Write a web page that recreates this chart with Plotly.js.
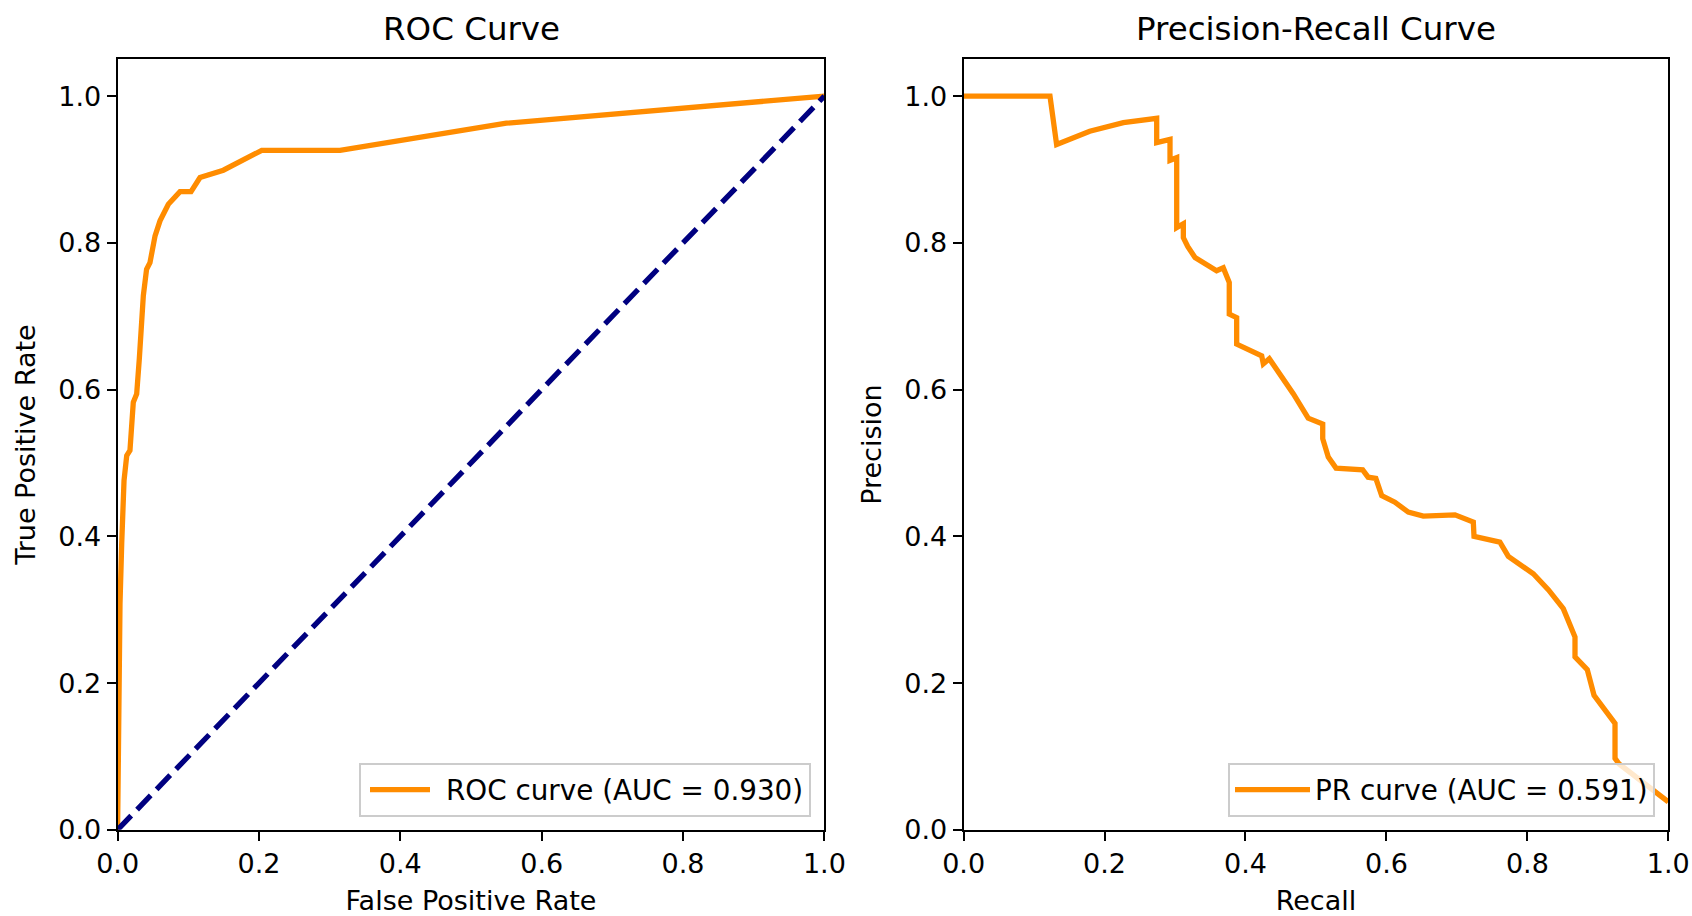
<!DOCTYPE html>
<html>
<head>
<meta charset="utf-8">
<script src="https://cdn.plot.ly/plotly-3.0.1.min.js"></script>
<style>html,body{margin:0;padding:0;background:#fff;}#chart{width:1692px;height:916px;}</style>
</head>
<body>
<div id="chart"></div>
<script>
// ROC curve data
const fpr = [0, 0.0015, 0.0034, 0.0058, 0.0091, 0.0129, 0.0175, 0.0222, 0.027, 0.0307, 0.034, 0.0364, 0.041, 0.0458, 0.053, 0.060, 0.0718, 0.0883, 0.1039, 0.1166, 0.1496, 0.2039, 0.3147, 0.55, 1.0];
const tpr = [0, 0.20, 0.308, 0.390, 0.476, 0.510, 0.517, 0.5826, 0.594, 0.6417, 0.703, 0.728, 0.764, 0.773, 0.8095, 0.830, 0.8526, 0.8698, 0.8698, 0.889, 0.899, 0.926, 0.926, 0.963, 1.0];
const diagX = [0, 1];
const diagY = [0, 1];

// Precision-Recall curve data
const recall = [0, 0.1226, 0.132, 0.179, 0.2267, 0.274, 0.274, 0.2929, 0.2929, 0.3024, 0.3024, 0.3118, 0.3118, 0.318, 0.3284, 0.359, 0.3685, 0.377, 0.377, 0.3875, 0.3875, 0.423, 0.4253, 0.4338, 0.468, 0.489, 0.5096, 0.5096, 0.5175, 0.5285, 0.5663, 0.574, 0.585, 0.5933, 0.612, 0.631, 0.6523, 0.6973, 0.7233, 0.7243, 0.761, 0.773, 0.8084, 0.83, 0.851, 0.8676, 0.8676, 0.885, 0.8946, 0.9244, 0.9244, 0.93, 1.0];
const precision = [1.0, 1.0, 0.934, 0.952, 0.9637, 0.9696, 0.9365, 0.941, 0.9125, 0.916, 0.8208, 0.826, 0.807, 0.795, 0.780, 0.762, 0.766, 0.746, 0.703, 0.698, 0.662, 0.646, 0.635, 0.642, 0.594, 0.561, 0.553, 0.533, 0.508, 0.493, 0.4906, 0.4806, 0.479, 0.4556, 0.4465, 0.433, 0.4275, 0.4293, 0.4193, 0.400, 0.392, 0.3726, 0.349, 0.327, 0.3014, 0.2628, 0.2356, 0.2184, 0.1834, 0.145, 0.0973, 0.090, 0.038];

const rocLabel = 'ROC curve (AUC = 0.930)';
const prLabel = 'PR curve (AUC = 0.591)';
const tickVals = [0, 0.2, 0.4, 0.6, 0.8, 1.0];

const FONT = 'DejaVu Sans, sans-serif';
const FS = 27;
const LFS = 27.8;
const TFS = 32.5;
const ORANGE = '#ff8c00';
const NAVY = '#000080';

const traces = [
  {x: fpr, y: tpr, mode: 'lines', name: rocLabel, line: {color: ORANGE, width: 5.3}, xaxis: 'x', yaxis: 'y', legend: 'legend'},
  {x: diagX, y: diagY, mode: 'lines', showlegend: false, line: {color: NAVY, width: 5.3, dash: '19.6px,8.5px'}, xaxis: 'x', yaxis: 'y'},
  {x: recall, y: precision, mode: 'lines', name: prLabel, line: {color: ORANGE, width: 5.3}, xaxis: 'x2', yaxis: 'y2', legend: 'legend2'}
];

function axis(extra) {
  return Object.assign({
    showgrid: false, zeroline: false, showline: true, mirror: true,
    linecolor: '#000', linewidth: 2,
    ticks: 'outside', ticklen: 9, tickwidth: 2, tickcolor: '#000',
    tickvals: tickVals, tickformat: '.1f',
    tickfont: {family: FONT, size: FS, color: '#000'},
    automargin: false, fixedrange: true
  }, extra);
}

const W = 1692, H = 916;
const yDom = [1 - 829.8 / H, 1 - 59.4 / H];

const legendCommon = {
  bgcolor: 'rgba(255,255,255,0.8)', bordercolor: '#cccccc', borderwidth: 2,
  font: {family: FONT, size: LFS, color: '#000'},
  itemwidth: 75,
  xanchor: 'right', yanchor: 'bottom', y: (H - 817) / H
};

const titleFont = {family: FONT, size: FS, color: '#000'};

const layout = {
  width: W, height: H,
  margin: {l: 0, r: 0, t: 0, b: 0},
  paper_bgcolor: '#fff', plot_bgcolor: '#fff',
  font: {family: FONT, size: FS, color: '#000'},
  xaxis: axis({domain: [117.6 / W, 824.4 / W], range: [0, 1], anchor: 'y',
    title: {text: 'False Positive Rate', font: titleFont, standoff: 13}}),
  yaxis: axis({domain: yDom, range: [0, 1.05], anchor: 'x',
    title: {text: 'True Positive Rate', font: titleFont, standoff: 15}}),
  xaxis2: axis({domain: [963.6 / W, 1668.3 / W], range: [0, 1], anchor: 'y2',
    title: {text: 'Recall', font: titleFont, standoff: 13}}),
  yaxis2: axis({domain: yDom, range: [0, 1.05], anchor: 'x2',
    title: {text: 'Precision', font: titleFont, standoff: 15}}),
  legend: Object.assign({}, legendCommon, {x: 811 / W}),
  legend2: Object.assign({}, legendCommon, {x: 1655 / W}),
  annotations: [
    {text: 'ROC Curve', xref: 'paper', yref: 'paper', x: 471 / W, y: 1 - 29 / H, xanchor: 'center', yanchor: 'middle', showarrow: false, font: {family: FONT, size: TFS, color: '#000'}},
    {text: 'Precision-Recall Curve', xref: 'paper', yref: 'paper', x: 1316 / W, y: 1 - 29 / H, xanchor: 'center', yanchor: 'middle', showarrow: false, font: {family: FONT, size: TFS, color: '#000'}}
  ],
  showlegend: true
};

Plotly.newPlot('chart', traces, layout, {staticPlot: true, displayModeBar: false}).then(function (gd) {
  // lengthen the legend line samples to match the matplotlib-style handle length
  gd.querySelectorAll('.legend .legendlines path.js-line').forEach(function (p) {
    p.setAttribute('d', 'M9,0h60');
  });
});
</script>
</body>
</html>
